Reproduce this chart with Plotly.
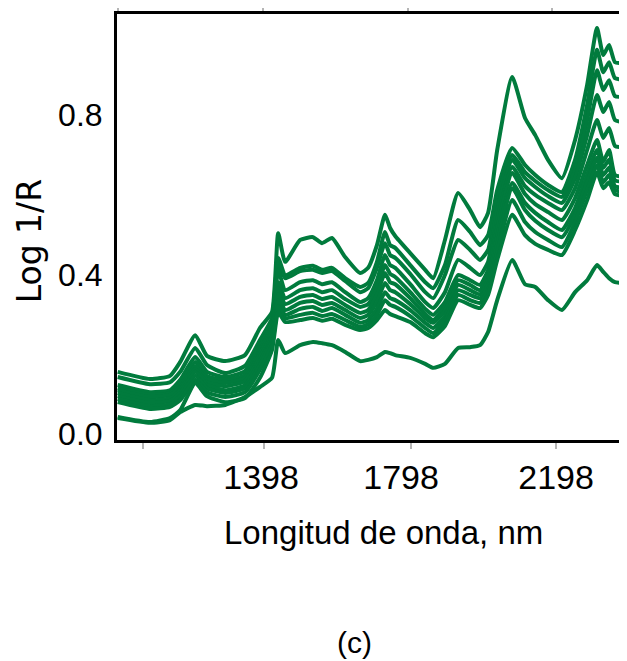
import plotly.graph_objects as go

# Wavelength grid (nm) at the traced key points
wavelength_nm = [1000, 1088, 1143, 1171, 1212, 1244, 1294, 1348, 1389, 1422,
                 1439, 1458, 1499, 1534, 1559, 1586, 1622, 1663, 1685, 1709,
                 1731, 1745, 1759, 1800, 1841, 1863, 1895, 1931, 1964, 1991,
                 2013, 2038, 2079, 2114, 2142, 2177, 2215, 2251, 2284, 2311,
                 2328, 2344, 2360, 2393]

# Log 1/R spectra
spec_a = [0.156, 0.138, 0.146, 0.181, 0.248, 0.196, 0.183, 0.198, 0.266, 0.306,
          0.504, 0.432, 0.487, 0.494, 0.479, 0.492, 0.444, 0.404, 0.417, 0.474,
          0.550, 0.517, 0.497, 0.454, 0.412, 0.391, 0.487, 0.605, 0.562, 0.519,
          0.555, 0.713, 0.896, 0.793, 0.750, 0.688, 0.642, 0.738, 0.876, 1.019,
          0.951, 0.976, 0.933, 0.931]
spec_b = [0.143, 0.125, 0.130, 0.156, 0.216, 0.173, 0.153, 0.171, 0.236, 0.291,
          0.442, 0.399, 0.417, 0.422, 0.412, 0.417, 0.391, 0.369, 0.379, 0.432,
          0.507, 0.474, 0.467, 0.424, 0.381, 0.366, 0.424, 0.537, 0.507, 0.474,
          0.499, 0.612, 0.718, 0.675, 0.650, 0.625, 0.607, 0.688, 0.826, 0.964,
          0.908, 0.933, 0.893, 0.888]
spec_c = [0.123, 0.105, 0.110, 0.136, 0.193, 0.156, 0.143, 0.158, 0.221, 0.281,
          0.432, 0.391, 0.409, 0.412, 0.404, 0.409, 0.384, 0.356, 0.366, 0.417,
          0.479, 0.449, 0.442, 0.402, 0.356, 0.341, 0.399, 0.487, 0.462, 0.437,
          0.462, 0.587, 0.700, 0.657, 0.635, 0.612, 0.595, 0.662, 0.788, 0.913,
          0.863, 0.888, 0.848, 0.846]
spec_d = [0.115, 0.098, 0.103, 0.125, 0.181, 0.146, 0.136, 0.148, 0.211, 0.271,
          0.412, 0.361, 0.381, 0.386, 0.376, 0.381, 0.356, 0.331, 0.341, 0.386,
          0.449, 0.424, 0.417, 0.376, 0.331, 0.316, 0.356, 0.437, 0.417, 0.399,
          0.432, 0.562, 0.688, 0.642, 0.620, 0.597, 0.580, 0.642, 0.750, 0.851,
          0.808, 0.833, 0.788, 0.780]
spec_e = [0.110, 0.093, 0.098, 0.118, 0.171, 0.138, 0.128, 0.141, 0.203, 0.261,
          0.381, 0.341, 0.361, 0.366, 0.356, 0.361, 0.339, 0.319, 0.326, 0.366,
          0.424, 0.402, 0.394, 0.356, 0.314, 0.299, 0.331, 0.399, 0.386, 0.374,
          0.412, 0.537, 0.670, 0.622, 0.600, 0.580, 0.562, 0.617, 0.713, 0.788,
          0.743, 0.768, 0.723, 0.718]
spec_f = [0.103, 0.085, 0.090, 0.110, 0.163, 0.130, 0.120, 0.133, 0.193, 0.253,
          0.366, 0.326, 0.344, 0.349, 0.339, 0.344, 0.324, 0.304, 0.311, 0.349,
          0.404, 0.381, 0.376, 0.341, 0.301, 0.286, 0.319, 0.386, 0.374, 0.361,
          0.399, 0.517, 0.655, 0.602, 0.577, 0.557, 0.537, 0.592, 0.675, 0.738,
          0.683, 0.713, 0.650, 0.645]
spec_g = [0.095, 0.078, 0.083, 0.103, 0.156, 0.123, 0.110, 0.123, 0.183, 0.246,
          0.351, 0.311, 0.329, 0.334, 0.324, 0.329, 0.311, 0.291, 0.299, 0.331,
          0.379, 0.361, 0.356, 0.326, 0.291, 0.279, 0.309, 0.374, 0.361, 0.351,
          0.386, 0.497, 0.630, 0.580, 0.555, 0.532, 0.512, 0.567, 0.650, 0.713,
          0.668, 0.688, 0.637, 0.632]
spec_h = [0.088, 0.070, 0.075, 0.095, 0.146, 0.115, 0.103, 0.115, 0.173, 0.236,
          0.336, 0.299, 0.314, 0.319, 0.309, 0.316, 0.299, 0.279, 0.286, 0.314,
          0.356, 0.341, 0.336, 0.311, 0.279, 0.266, 0.296, 0.361, 0.349, 0.341,
          0.374, 0.477, 0.617, 0.562, 0.535, 0.512, 0.494, 0.550, 0.632, 0.693,
          0.650, 0.668, 0.622, 0.617]
spec_i = [0.080, 0.063, 0.068, 0.085, 0.136, 0.105, 0.093, 0.105, 0.161, 0.223,
          0.321, 0.291, 0.299, 0.304, 0.296, 0.301, 0.286, 0.269, 0.276, 0.299,
          0.336, 0.324, 0.319, 0.296, 0.266, 0.253, 0.284, 0.349, 0.336, 0.329,
          0.361, 0.457, 0.587, 0.532, 0.507, 0.487, 0.469, 0.532, 0.612, 0.675,
          0.632, 0.650, 0.612, 0.607]
spec_j = [0.043, 0.030, 0.040, 0.060, 0.128, 0.095, 0.080, 0.090, 0.141, 0.211,
          0.306, 0.281, 0.286, 0.291, 0.284, 0.289, 0.274, 0.261, 0.266, 0.286,
          0.311, 0.301, 0.296, 0.281, 0.253, 0.243, 0.271, 0.336, 0.324, 0.316,
          0.349, 0.437, 0.550, 0.499, 0.477, 0.462, 0.449, 0.512, 0.587, 0.657,
          0.617, 0.632, 0.602, 0.597]
spec_z = [0.040, 0.028, 0.035, 0.055, 0.073, 0.070, 0.073, 0.093, 0.118, 0.141,
          0.236, 0.203, 0.223, 0.231, 0.228, 0.223, 0.206, 0.183, 0.186, 0.193,
          0.206, 0.203, 0.198, 0.191, 0.176, 0.166, 0.176, 0.216, 0.218, 0.223,
          0.256, 0.336, 0.437, 0.376, 0.369, 0.336, 0.311, 0.356, 0.386, 0.424,
          0.407, 0.391, 0.381, 0.379]

spectra = [spec_a, spec_b, spec_c, spec_d, spec_e, spec_f, spec_g, spec_h,
           spec_i, spec_j, spec_z]

# Axis tick labels
x_tick_labels = ["1398", "1798", "2198"]
x_label_pos = [1392, 1775, 2199]
x_tick_marks = [1069, 1400, 1802, 2198]
x_top_tick_marks = [1001, 1398, 1795, 2188]
y_tick_vals = [0.0, 0.4, 0.8]
y_tick_text = ["0.0", "0.4", "0.8"]

GREEN = "#017B3D"
SANS = "Liberation Sans, Arial, sans-serif"
X_RANGE = [998, 2393]

fig = go.Figure()
for s in spectra:
    fig.add_trace(go.Scatter(
        x=wavelength_nm, y=s, mode="lines",
        line=dict(color=GREEN, width=4, shape="spline", smoothing=0.5),
        showlegend=False, hoverinfo="skip",
    ))

# the page body has an 8px margin, so the figure is 8px smaller and shifted
fig.update_layout(
    width=619, height=653,
    margin=dict(l=109, r=0, t=6, b=221),
    paper_bgcolor="white", plot_bgcolor="white",
    xaxis=dict(
        range=X_RANGE, showgrid=False, zeroline=False,
        showline=True, linecolor="black", linewidth=3,
        ticks="outside", tickvals=x_tick_marks, ticklen=6, tickwidth=2,
        tickcolor="#b5b5b5", showticklabels=False,
    ),
    xaxis2=dict(
        range=X_RANGE, overlaying="x", anchor="y", side="bottom",
        showgrid=False, zeroline=False, showline=False, ticks="",
        tickvals=x_label_pos, ticktext=x_tick_labels,
        tickfont=dict(family=SANS, size=34, color="black"),
        ticklabelstandoff=14,
    ),
    xaxis3=dict(
        range=X_RANGE, overlaying="x", anchor="y", side="top",
        showgrid=False, zeroline=False,
        showline=True, linecolor="black", linewidth=3,
        ticks="outside", tickvals=x_top_tick_marks, ticklen=5, tickwidth=2,
        tickcolor="#b5b5b5", showticklabels=False,
    ),
    yaxis=dict(
        range=[-0.015, 1.054], showgrid=False, zeroline=False,
        showline=True, linecolor="black", linewidth=3,
        ticks="", tickvals=y_tick_vals, ticktext=y_tick_text,
        tickfont=dict(family=SANS, size=32, color="black"),
        ticklabelstandoff=5,
    ),
    annotations=[
        dict(text="Log 1/R", xref="paper", yref="paper", x=-0.172, y=0.467,
             textangle=-90, showarrow=False, xanchor="center", yanchor="middle",
             font=dict(family="DejaVu Sans, Liberation Sans, sans-serif", size=33, color="black")),
        dict(text="Longitud de onda, nm", xref="paper", yref="paper", x=0.5235, y=-0.218,
             showarrow=False, xanchor="center", yanchor="middle",
             font=dict(family=SANS, size=33, color="black")),
        dict(text="(c)", xref="paper", yref="paper", x=0.465, y=-0.4765,
             showarrow=False, xanchor="center", yanchor="middle",
             font=dict(family=SANS, size=30, color="black")),
    ],
)

# dummy traces so the overlay axes are drawn
fig.add_trace(go.Scatter(x=[None], y=[None], xaxis="x2", showlegend=False, hoverinfo="skip"))
fig.add_trace(go.Scatter(x=[None], y=[None], xaxis="x3", showlegend=False, hoverinfo="skip"))

fig.write_html("out.html")
